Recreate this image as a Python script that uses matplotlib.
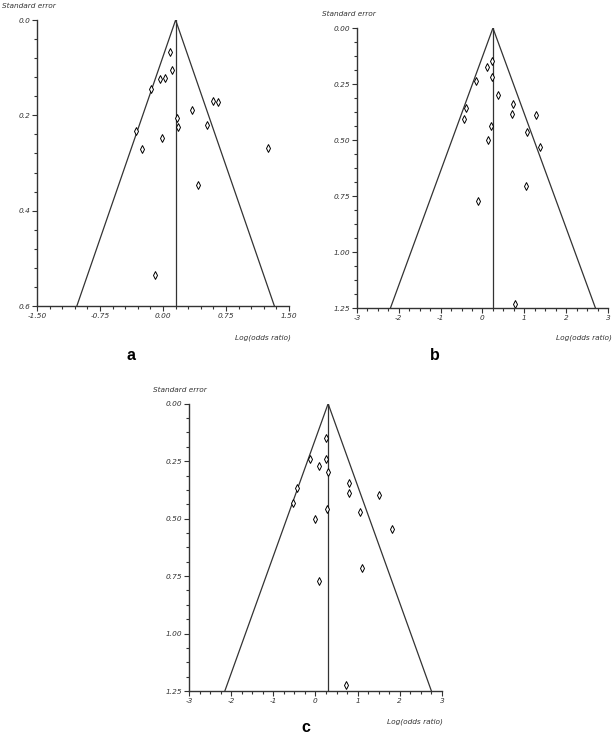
import numpy as np
import matplotlib
matplotlib.use("Agg")
import matplotlib.pyplot as plt
from matplotlib.ticker import MultipleLocator, FormatStrFormatter

# panel a
a_x = [0.087, 0.103, -0.036, 0.027, -0.147, 0.601, 0.649, 0.348, 0.166, 0.182,
       0.526, -0.317, -0.016, -0.250, 1.246, 0.411, -0.095]
a_se = [0.068, 0.104, 0.124, 0.121, 0.145, 0.169, 0.171, 0.189, 0.206, 0.224,
        0.220, 0.233, 0.248, 0.271, 0.268, 0.347, 0.534]
a_pooled = 0.15

# panel b
b_x = [0.235, 0.108, 0.219, -0.147, 0.371, 0.729, -0.394, 0.713, 1.287, -0.450,
       0.211, 1.064, 0.124, 1.375, 1.032, -0.115, 0.785]
b_se = [0.146, 0.173, 0.219, 0.237, 0.298, 0.339, 0.357, 0.382, 0.389, 0.407,
        0.439, 0.462, 0.500, 0.530, 0.706, 0.773, 1.234]
b_pooled = 0.25

# panel c
c_x = [0.245, -0.119, 0.245, 0.079, 0.308, 0.805, -0.450, 0.805, 1.500, -0.537,
       0.268, 1.050, -0.008, 1.824, 1.105, 0.079, 0.734]
c_se = [0.148, 0.239, 0.239, 0.270, 0.299, 0.345, 0.365, 0.390, 0.399, 0.431,
        0.458, 0.471, 0.503, 0.545, 0.713, 0.771, 1.225]
c_pooled = 0.3

small_family = ['Liberation Sans Narrow', 'DejaVu Sans']


def funnel(ax, x, se, pooled, xlim, xmaj, xmin, ymax, ymaj, ymin, xfmt, yfmt):
    ax.set_xlim(*xlim)
    ax.set_ylim(ymax, 0)
    # funnel limits
    ax.plot([pooled - 1.96 * ymax, pooled, pooled + 1.96 * ymax], [ymax, 0, ymax],
            color='#333333', lw=0.9)
    ax.plot([pooled, pooled], [0, ymax], color='#333333', lw=0.9)
    ax.plot(x, se, linestyle='none', marker='d', markersize=4.2,
            markerfacecolor='white', markeredgecolor='black', markeredgewidth=0.7)
    for s in ['top', 'right']:
        ax.spines[s].set_visible(False)
    for s in ['left', 'bottom']:
        ax.spines[s].set_linewidth(1.0)
        ax.spines[s].set_color('#333333')
    ax.xaxis.set_major_locator(MultipleLocator(xmaj))
    ax.xaxis.set_minor_locator(MultipleLocator(xmin))
    ax.yaxis.set_major_locator(MultipleLocator(ymaj))
    ax.yaxis.set_minor_locator(MultipleLocator(ymin))
    ax.xaxis.set_major_formatter(FormatStrFormatter(xfmt))
    ax.yaxis.set_major_formatter(FormatStrFormatter(yfmt))
    ax.tick_params(which='major', direction='out', length=3.5, width=0.8, pad=1.5,
                   colors='#333333')
    ax.tick_params(which='minor', direction='out', length=2.5, width=0.8,
                   colors='#333333')
    for lab in ax.get_xticklabels() + ax.get_yticklabels():
        lab.set_fontsize(5.3)
        lab.set_style('italic')
        lab.set_family(small_family)
    ax.set_facecolor('none')


fig = plt.figure(figsize=(6.14, 7.36), dpi=100)

ax_a = fig.add_axes([0.0603, 0.5842, 0.4104, 0.3886])
funnel(ax_a, a_x, a_se, a_pooled, (-1.5, 1.5), 0.75, 0.15, 0.6, 0.2, 0.04, '%.2f', '%.1f')

ax_b = fig.add_axes([0.5814, 0.5815, 0.4088, 0.3804])
funnel(ax_b, b_x, b_se, b_pooled, (-3, 3), 1, 0.25, 1.25, 0.25, 0.0625, '%d', '%.2f')

ax_c = fig.add_axes([0.3078, 0.0611, 0.412, 0.3904])
funnel(ax_c, c_x, c_se, c_pooled, (-3, 3), 1, 0.25, 1.25, 0.25, 0.0625, '%d', '%.2f')

lab_font = dict(fontsize=5.3, style='italic', family=small_family, color='#333333')
# axis titles
fig.text(2 / 614, 1 - 6 / 736, 'Standard error', ha='left', va='center', **lab_font)
fig.text(322 / 614, 1 - 14 / 736, 'Standard error', ha='left', va='center', **lab_font)
fig.text(153 / 614, 1 - 390 / 736, 'Standard error', ha='left', va='center', **lab_font)
fig.text(291 / 614, 1 - 338 / 736, 'Log(odds ratio)', ha='right', va='center', **lab_font)
fig.text(612 / 614, 1 - 338 / 736, 'Log(odds ratio)', ha='right', va='center', **lab_font)
fig.text(443 / 614, 1 - 722 / 736, 'Log(odds ratio)', ha='right', va='center', **lab_font)

# panel letters
letter_font = dict(fontsize=11.5, fontweight='heavy', family=['Liberation Sans', 'DejaVu Sans'])
fig.text(131 / 614, 1 - 356 / 736, 'a', ha='center', va='center', **letter_font)
fig.text(435 / 614, 1 - 356 / 736, 'b', ha='center', va='center', **letter_font)
fig.text(306 / 614, 1 - 728 / 736, 'c', ha='center', va='center', **letter_font)

fig.savefig('out.png', dpi=100)
